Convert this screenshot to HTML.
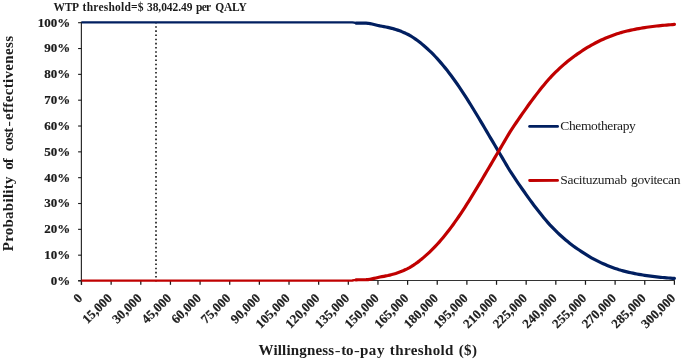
<!DOCTYPE html>
<html><head><meta charset="utf-8"><title>Cost-effectiveness acceptability curve</title>
<style>
html,body{margin:0;padding:0;background:#fff}
svg{display:block}
text{font-family:"Liberation Serif","DejaVu Serif",serif;fill:#1c1c1c}
.b{font-weight:bold}
.t{stroke:#1c1c1c;stroke-width:0.2px}
</style></head><body>
<svg width="685" height="362" viewBox="0 0 685 362">
<rect width="685" height="362" fill="#fff"/>
<g stroke="#333" stroke-width="1" fill="none">
<line x1="81.4" y1="21.8" x2="81.4" y2="284.8" stroke="#2e2e2e" stroke-width="1.2"/>
<line x1="78.1" y1="280.5" x2="674.9" y2="280.5"/>
<line x1="78.1" y1="281.00" x2="81.5" y2="281.00" stroke="#1a1a1a" stroke-width="1.1"/>
<line x1="78.1" y1="255.17" x2="81.5" y2="255.17" stroke="#1a1a1a" stroke-width="1.1"/>
<line x1="78.1" y1="229.34" x2="81.5" y2="229.34" stroke="#1a1a1a" stroke-width="1.1"/>
<line x1="78.1" y1="203.51" x2="81.5" y2="203.51" stroke="#1a1a1a" stroke-width="1.1"/>
<line x1="78.1" y1="177.68" x2="81.5" y2="177.68" stroke="#1a1a1a" stroke-width="1.1"/>
<line x1="78.1" y1="151.85" x2="81.5" y2="151.85" stroke="#1a1a1a" stroke-width="1.1"/>
<line x1="78.1" y1="126.02" x2="81.5" y2="126.02" stroke="#1a1a1a" stroke-width="1.1"/>
<line x1="78.1" y1="100.19" x2="81.5" y2="100.19" stroke="#1a1a1a" stroke-width="1.1"/>
<line x1="78.1" y1="74.36" x2="81.5" y2="74.36" stroke="#1a1a1a" stroke-width="1.1"/>
<line x1="78.1" y1="48.53" x2="81.5" y2="48.53" stroke="#1a1a1a" stroke-width="1.1"/>
<line x1="78.1" y1="22.70" x2="81.5" y2="22.70" stroke="#1a1a1a" stroke-width="1.1"/>
<line x1="81.50" y1="280.6" x2="81.50" y2="284.8" stroke="#1a1a1a" stroke-width="1.25"/>
<line x1="111.14" y1="280.6" x2="111.14" y2="284.8" stroke="#1a1a1a" stroke-width="1.25"/>
<line x1="140.79" y1="280.6" x2="140.79" y2="284.8" stroke="#1a1a1a" stroke-width="1.25"/>
<line x1="170.44" y1="280.6" x2="170.44" y2="284.8" stroke="#1a1a1a" stroke-width="1.25"/>
<line x1="200.08" y1="280.6" x2="200.08" y2="284.8" stroke="#1a1a1a" stroke-width="1.25"/>
<line x1="229.72" y1="280.6" x2="229.72" y2="284.8" stroke="#1a1a1a" stroke-width="1.25"/>
<line x1="259.37" y1="280.6" x2="259.37" y2="284.8" stroke="#1a1a1a" stroke-width="1.25"/>
<line x1="289.01" y1="280.6" x2="289.01" y2="284.8" stroke="#1a1a1a" stroke-width="1.25"/>
<line x1="318.66" y1="280.6" x2="318.66" y2="284.8" stroke="#1a1a1a" stroke-width="1.25"/>
<line x1="348.31" y1="280.6" x2="348.31" y2="284.8" stroke="#1a1a1a" stroke-width="1.25"/>
<line x1="377.95" y1="280.6" x2="377.95" y2="284.8" stroke="#1a1a1a" stroke-width="1.25"/>
<line x1="407.60" y1="280.6" x2="407.60" y2="284.8" stroke="#1a1a1a" stroke-width="1.25"/>
<line x1="437.24" y1="280.6" x2="437.24" y2="284.8" stroke="#1a1a1a" stroke-width="1.25"/>
<line x1="466.88" y1="280.6" x2="466.88" y2="284.8" stroke="#1a1a1a" stroke-width="1.25"/>
<line x1="496.53" y1="280.6" x2="496.53" y2="284.8" stroke="#1a1a1a" stroke-width="1.25"/>
<line x1="526.17" y1="280.6" x2="526.17" y2="284.8" stroke="#1a1a1a" stroke-width="1.25"/>
<line x1="555.82" y1="280.6" x2="555.82" y2="284.8" stroke="#1a1a1a" stroke-width="1.25"/>
<line x1="585.47" y1="280.6" x2="585.47" y2="284.8" stroke="#1a1a1a" stroke-width="1.25"/>
<line x1="615.11" y1="280.6" x2="615.11" y2="284.8" stroke="#1a1a1a" stroke-width="1.25"/>
<line x1="644.75" y1="280.6" x2="644.75" y2="284.8" stroke="#1a1a1a" stroke-width="1.25"/>
<line x1="674.40" y1="280.6" x2="674.40" y2="284.8" stroke="#1a1a1a" stroke-width="1.25"/>
</g>
<line x1="156" y1="22.0" x2="156" y2="281.6" stroke="#222" stroke-width="1.7" stroke-dasharray="1.6 2.564"/>
<path d="M81.50,22.30 L83.48,22.30 L85.45,22.30 L87.43,22.30 L89.41,22.30 L91.38,22.30 L93.36,22.30 L95.33,22.30 L97.31,22.30 L99.29,22.30 L101.26,22.30 L103.24,22.30 L105.22,22.30 L107.19,22.30 L109.17,22.30 L111.14,22.30 L113.12,22.30 L115.10,22.30 L117.07,22.30 L119.05,22.30 L121.03,22.30 L123.00,22.30 L124.98,22.30 L126.96,22.30 L128.93,22.30 L130.91,22.30 L132.88,22.30 L134.86,22.30 L136.84,22.30 L138.81,22.30 L140.79,22.30 L142.77,22.30 L144.74,22.30 L146.72,22.30 L148.70,22.30 L150.67,22.30 L152.65,22.30 L154.62,22.30 L156.60,22.30 L158.58,22.30 L160.55,22.30 L162.53,22.30 L164.51,22.30 L166.48,22.30 L168.46,22.30 L170.44,22.30 L172.41,22.30 L174.39,22.30 L176.36,22.30 L178.34,22.30 L180.32,22.30 L182.29,22.30 L184.27,22.30 L186.25,22.30 L188.22,22.30 L190.20,22.30 L192.17,22.30 L194.15,22.30 L196.13,22.30 L198.10,22.30 L200.08,22.30 L202.06,22.30 L204.03,22.30 L206.01,22.30 L207.99,22.30 L209.96,22.30 L211.94,22.30 L213.91,22.30 L215.89,22.30 L217.87,22.30 L219.84,22.30 L221.82,22.30 L223.80,22.30 L225.77,22.30 L227.75,22.30 L229.72,22.30 L231.70,22.30 L233.68,22.30 L235.65,22.30 L237.63,22.30 L239.61,22.30 L241.58,22.30 L243.56,22.30 L245.54,22.30 L247.51,22.30 L249.49,22.30 L251.46,22.30 L253.44,22.30 L255.42,22.30 L257.39,22.30 L259.37,22.30 L261.35,22.30 L263.32,22.30 L265.30,22.30 L267.28,22.30 L269.25,22.30 L271.23,22.30 L273.20,22.30 L275.18,22.30 L277.16,22.30 L279.13,22.30 L281.11,22.30 L283.09,22.30 L285.06,22.30 L287.04,22.30 L289.01,22.30 L290.99,22.30 L292.97,22.30 L294.94,22.30 L296.92,22.30 L298.90,22.30 L300.87,22.30 L302.85,22.30 L304.83,22.30 L306.80,22.30 L308.78,22.30 L310.75,22.30 L312.73,22.30 L314.71,22.30 L316.68,22.30 L318.66,22.30 L320.64,22.30 L322.61,22.30 L324.59,22.30 L326.57,22.30 L328.54,22.30 L330.52,22.30 L332.49,22.30 L334.47,22.30 L336.45,22.30 L338.42,22.30 L340.40,22.30 L342.38,22.30 L344.35,22.30 L346.33,22.31 L348.31,22.32 L350.28,22.34 L352.26,22.40 L354.23,22.72 L356.21,23.05" fill="none" stroke="#011f60" stroke-width="2.3" stroke-linejoin="round" stroke-linecap="butt"/>
<path d="M356.21,23.05 L358.19,23.16 L360.16,23.13 L362.14,23.13 L364.12,23.15 L366.09,23.20 L368.07,23.30 L370.04,23.66 L372.02,24.05 L374.00,24.48 L375.97,24.94 L377.95,25.43 L379.93,25.92 L381.90,26.25 L383.88,26.59 L385.86,26.96 L387.83,27.37 L389.81,27.83 L391.78,28.33 L393.76,28.88 L395.74,29.48 L397.71,30.13 L399.69,30.84 L401.67,31.61 L403.64,32.43 L405.62,33.32 L407.60,34.27 L409.57,35.28 L411.55,36.47 L413.52,37.75 L415.50,39.11 L417.48,40.54 L419.45,42.04 L421.43,43.62 L423.41,45.28 L425.38,46.99 L427.36,48.74 L429.33,50.56 L431.31,52.46 L433.29,54.44 L435.26,56.49 L437.24,58.63 L439.22,60.83 L441.19,63.11 L443.17,65.45 L445.15,67.86 L447.12,70.35 L449.10,72.90 L451.07,75.52 L453.05,78.21 L455.03,80.96 L457.00,83.77 L458.98,86.64 L460.96,89.58 L462.93,92.57 L464.91,95.62 L466.88,98.71 L468.86,101.84 L470.84,105.02 L472.81,108.22 L474.79,111.46 L476.77,114.73 L478.74,118.02 L480.72,121.34 L482.70,124.66 L484.67,128.01 L486.65,131.36 L488.62,134.71 L490.60,138.07 L492.58,141.43 L494.55,144.78 L496.53,148.12 L498.51,151.45 L500.48,154.79 L502.46,158.18 L504.44,161.55 L506.41,164.90 L508.39,168.22 L510.36,171.46 L512.34,174.47 L514.32,177.45 L516.29,180.39 L518.27,183.29 L520.25,186.15 L522.22,188.96 L524.20,191.73 L526.17,194.57 L528.15,197.37 L530.13,200.11 L532.10,202.80 L534.08,205.43 L536.06,208.01 L538.03,210.54 L540.01,213.07 L541.99,215.54 L543.96,217.96 L545.94,220.32 L547.91,222.62 L549.89,224.86 L551.87,226.95 L553.84,228.98 L555.82,230.95 L557.80,232.86 L559.77,234.71 L561.75,236.51 L563.73,238.25 L565.70,239.94 L567.68,241.58 L569.65,243.16 L571.63,244.69 L573.61,246.16 L575.58,247.59 L577.56,248.96 L579.54,250.29 L581.51,251.63 L583.49,252.95 L585.47,254.22 L587.44,255.44 L589.42,256.62 L591.39,257.76 L593.37,258.86 L595.35,259.91 L597.32,260.92 L599.30,261.89 L601.28,262.83 L603.25,263.73 L605.23,264.59 L607.20,265.42 L609.18,266.21 L611.16,266.97 L613.13,267.70 L615.11,268.40 L617.09,269.08 L619.06,269.72 L621.04,270.31 L623.02,270.85 L624.99,271.36 L626.97,271.85 L628.94,272.32 L630.92,272.77 L632.90,273.19 L634.87,273.59 L636.85,273.97 L638.83,274.34 L640.80,274.68 L642.78,275.01 L644.75,275.32 L646.73,275.62 L648.71,275.90 L650.68,276.17 L652.66,276.42 L654.64,276.66 L656.61,276.89 L658.59,277.10 L660.57,277.30 L662.54,277.50 L664.52,277.68 L666.49,277.85 L668.47,278.01 L670.45,278.17 L672.42,278.31 L674.40,278.45" fill="none" stroke="#011f60" stroke-width="3.2" stroke-linejoin="round" stroke-linecap="round"/>
<path d="M81.50,280.60 L83.48,280.60 L85.45,280.60 L87.43,280.60 L89.41,280.60 L91.38,280.60 L93.36,280.60 L95.33,280.60 L97.31,280.60 L99.29,280.60 L101.26,280.60 L103.24,280.60 L105.22,280.60 L107.19,280.60 L109.17,280.60 L111.14,280.60 L113.12,280.60 L115.10,280.60 L117.07,280.60 L119.05,280.60 L121.03,280.60 L123.00,280.60 L124.98,280.60 L126.96,280.60 L128.93,280.60 L130.91,280.60 L132.88,280.60 L134.86,280.60 L136.84,280.60 L138.81,280.60 L140.79,280.60 L142.77,280.60 L144.74,280.60 L146.72,280.60 L148.70,280.60 L150.67,280.60 L152.65,280.60 L154.62,280.60 L156.60,280.60 L158.58,280.60 L160.55,280.60 L162.53,280.60 L164.51,280.60 L166.48,280.60 L168.46,280.60 L170.44,280.60 L172.41,280.60 L174.39,280.60 L176.36,280.60 L178.34,280.60 L180.32,280.60 L182.29,280.60 L184.27,280.60 L186.25,280.60 L188.22,280.60 L190.20,280.60 L192.17,280.60 L194.15,280.60 L196.13,280.60 L198.10,280.60 L200.08,280.60 L202.06,280.60 L204.03,280.60 L206.01,280.60 L207.99,280.60 L209.96,280.60 L211.94,280.60 L213.91,280.60 L215.89,280.60 L217.87,280.60 L219.84,280.60 L221.82,280.60 L223.80,280.60 L225.77,280.60 L227.75,280.60 L229.72,280.60 L231.70,280.60 L233.68,280.60 L235.65,280.60 L237.63,280.60 L239.61,280.60 L241.58,280.60 L243.56,280.60 L245.54,280.60 L247.51,280.60 L249.49,280.60 L251.46,280.60 L253.44,280.60 L255.42,280.60 L257.39,280.60 L259.37,280.60 L261.35,280.60 L263.32,280.60 L265.30,280.60 L267.28,280.60 L269.25,280.60 L271.23,280.60 L273.20,280.60 L275.18,280.60 L277.16,280.60 L279.13,280.60 L281.11,280.60 L283.09,280.60 L285.06,280.60 L287.04,280.60 L289.01,280.60 L290.99,280.60 L292.97,280.60 L294.94,280.60 L296.92,280.60 L298.90,280.60 L300.87,280.60 L302.85,280.60 L304.83,280.60 L306.80,280.60 L308.78,280.60 L310.75,280.60 L312.73,280.60 L314.71,280.60 L316.68,280.60 L318.66,280.60 L320.64,280.60 L322.61,280.60 L324.59,280.60 L326.57,280.60 L328.54,280.60 L330.52,280.60 L332.49,280.60 L334.47,280.60 L336.45,280.60 L338.42,280.60 L340.40,280.60 L342.38,280.60 L344.35,280.60 L346.33,280.59 L348.31,280.58 L350.28,280.56 L352.26,280.50 L354.23,280.18 L356.21,279.85" fill="none" stroke="#c00000" stroke-width="2.3" stroke-linejoin="round" stroke-linecap="butt"/>
<path d="M356.21,279.85 L358.19,279.74 L360.16,279.77 L362.14,279.77 L364.12,279.75 L366.09,279.70 L368.07,279.60 L370.04,279.24 L372.02,278.85 L374.00,278.42 L375.97,277.96 L377.95,277.47 L379.93,276.98 L381.90,276.65 L383.88,276.31 L385.86,275.94 L387.83,275.53 L389.81,275.07 L391.78,274.57 L393.76,274.02 L395.74,273.42 L397.71,272.77 L399.69,272.06 L401.67,271.29 L403.64,270.47 L405.62,269.58 L407.60,268.63 L409.57,267.62 L411.55,266.43 L413.52,265.15 L415.50,263.79 L417.48,262.36 L419.45,260.86 L421.43,259.28 L423.41,257.62 L425.38,255.91 L427.36,254.16 L429.33,252.34 L431.31,250.44 L433.29,248.46 L435.26,246.41 L437.24,244.27 L439.22,242.07 L441.19,239.79 L443.17,237.45 L445.15,235.04 L447.12,232.55 L449.10,230.00 L451.07,227.38 L453.05,224.69 L455.03,221.94 L457.00,219.13 L458.98,216.26 L460.96,213.32 L462.93,210.33 L464.91,207.28 L466.88,204.19 L468.86,201.06 L470.84,197.88 L472.81,194.68 L474.79,191.44 L476.77,188.17 L478.74,184.88 L480.72,181.56 L482.70,178.24 L484.67,174.89 L486.65,171.54 L488.62,168.19 L490.60,164.83 L492.58,161.47 L494.55,158.12 L496.53,154.78 L498.51,151.45 L500.48,148.11 L502.46,144.72 L504.44,141.35 L506.41,138.00 L508.39,134.68 L510.36,131.44 L512.34,128.43 L514.32,125.45 L516.29,122.51 L518.27,119.61 L520.25,116.75 L522.22,113.94 L524.20,111.17 L526.17,108.33 L528.15,105.53 L530.13,102.79 L532.10,100.10 L534.08,97.47 L536.06,94.89 L538.03,92.36 L540.01,89.83 L541.99,87.36 L543.96,84.94 L545.94,82.58 L547.91,80.28 L549.89,78.04 L551.87,75.95 L553.84,73.92 L555.82,71.95 L557.80,70.04 L559.77,68.19 L561.75,66.39 L563.73,64.65 L565.70,62.96 L567.68,61.32 L569.65,59.74 L571.63,58.21 L573.61,56.74 L575.58,55.31 L577.56,53.94 L579.54,52.61 L581.51,51.27 L583.49,49.95 L585.47,48.68 L587.44,47.46 L589.42,46.28 L591.39,45.14 L593.37,44.04 L595.35,42.99 L597.32,41.98 L599.30,41.01 L601.28,40.07 L603.25,39.17 L605.23,38.31 L607.20,37.48 L609.18,36.69 L611.16,35.93 L613.13,35.20 L615.11,34.50 L617.09,33.82 L619.06,33.18 L621.04,32.59 L623.02,32.05 L624.99,31.54 L626.97,31.05 L628.94,30.58 L630.92,30.13 L632.90,29.71 L634.87,29.31 L636.85,28.93 L638.83,28.56 L640.80,28.22 L642.78,27.89 L644.75,27.58 L646.73,27.28 L648.71,27.00 L650.68,26.73 L652.66,26.48 L654.64,26.24 L656.61,26.01 L658.59,25.80 L660.57,25.60 L662.54,25.40 L664.52,25.22 L666.49,25.05 L668.47,24.89 L670.45,24.73 L672.42,24.59 L674.40,24.45" fill="none" stroke="#c00000" stroke-width="3.2" stroke-linejoin="round" stroke-linecap="round"/>
<line x1="529.6" y1="126.4" x2="557.6" y2="126.4" stroke="#011f60" stroke-width="2.8" stroke-linecap="round"/>
<line x1="529.6" y1="180.5" x2="557.6" y2="180.4" stroke="#c00000" stroke-width="2.8" stroke-linecap="round"/>
<text x="560.3" y="130.4" font-size="13.5" textLength="75.5" lengthAdjust="spacing">Chemotherapy</text>
<text y="184.2" font-size="13.5"><tspan x="560.3" textLength="66.6" lengthAdjust="spacing">Sacituzumab</tspan> <tspan x="631.1" textLength="49.3" lengthAdjust="spacing">govitecan</tspan></text>
<text class="b" y="10.9" font-size="11.5"><tspan x="53.6" textLength="24.9">WTP</tspan> <tspan x="82.6" textLength="61">threshold=$</tspan> <tspan x="147" textLength="45.4">38,042.49</tspan> <tspan x="196" textLength="14.9">per</tspan> <tspan x="215.2" textLength="31.5">QALY</tspan></text>
<text class="b t" x="70.3" y="284.8" font-size="13" text-anchor="end">0%</text>
<text class="b t" x="70.3" y="259.0" font-size="13" text-anchor="end">10%</text>
<text class="b t" x="70.3" y="233.1" font-size="13" text-anchor="end">20%</text>
<text class="b t" x="70.3" y="207.3" font-size="13" text-anchor="end">30%</text>
<text class="b t" x="70.3" y="181.5" font-size="13" text-anchor="end">40%</text>
<text class="b t" x="70.3" y="155.7" font-size="13" text-anchor="end">50%</text>
<text class="b t" x="70.3" y="129.8" font-size="13" text-anchor="end">60%</text>
<text class="b t" x="70.3" y="104.0" font-size="13" text-anchor="end">70%</text>
<text class="b t" x="70.3" y="78.2" font-size="13" text-anchor="end">80%</text>
<text class="b t" x="70.3" y="52.3" font-size="13" text-anchor="end">90%</text>
<text class="b t" x="70.3" y="26.5" font-size="13" text-anchor="end">100%</text>
<text class="b t" font-size="13" text-anchor="end" transform="translate(83.2,299.0) rotate(-45)">0</text>
<text class="b t" font-size="13" text-anchor="end" transform="translate(112.8,299.0) rotate(-45)">15,000</text>
<text class="b t" font-size="13" text-anchor="end" transform="translate(142.5,299.0) rotate(-45)">30,000</text>
<text class="b t" font-size="13" text-anchor="end" transform="translate(172.1,299.0) rotate(-45)">45,000</text>
<text class="b t" font-size="13" text-anchor="end" transform="translate(201.8,299.0) rotate(-45)">60,000</text>
<text class="b t" font-size="13" text-anchor="end" transform="translate(231.4,299.0) rotate(-45)">75,000</text>
<text class="b t" font-size="13" text-anchor="end" transform="translate(261.1,299.0) rotate(-45)">90,000</text>
<text class="b t" font-size="13" text-anchor="end" transform="translate(290.7,299.0) rotate(-45)">105,000</text>
<text class="b t" font-size="13" text-anchor="end" transform="translate(320.4,299.0) rotate(-45)">120,000</text>
<text class="b t" font-size="13" text-anchor="end" transform="translate(350.0,299.0) rotate(-45)">135,000</text>
<text class="b t" font-size="13" text-anchor="end" transform="translate(379.6,299.0) rotate(-45)">150,000</text>
<text class="b t" font-size="13" text-anchor="end" transform="translate(409.3,299.0) rotate(-45)">165,000</text>
<text class="b t" font-size="13" text-anchor="end" transform="translate(438.9,299.0) rotate(-45)">180,000</text>
<text class="b t" font-size="13" text-anchor="end" transform="translate(468.6,299.0) rotate(-45)">195,000</text>
<text class="b t" font-size="13" text-anchor="end" transform="translate(498.2,299.0) rotate(-45)">210,000</text>
<text class="b t" font-size="13" text-anchor="end" transform="translate(527.9,299.0) rotate(-45)">225,000</text>
<text class="b t" font-size="13" text-anchor="end" transform="translate(557.5,299.0) rotate(-45)">240,000</text>
<text class="b t" font-size="13" text-anchor="end" transform="translate(587.2,299.0) rotate(-45)">255,000</text>
<text class="b t" font-size="13" text-anchor="end" transform="translate(616.8,299.0) rotate(-45)">270,000</text>
<text class="b t" font-size="13" text-anchor="end" transform="translate(646.5,299.0) rotate(-45)">285,000</text>
<text class="b t" font-size="13" text-anchor="end" transform="translate(676.1,299.0) rotate(-45)">300,000</text>
<text class="b" y="354.9" font-size="15"><tspan x="258.5" textLength="75.6">Willingness</tspan><tspan x="334.7" textLength="5.8" lengthAdjust="spacingAndGlyphs" font-weight="normal">-</tspan><tspan x="341.2" textLength="12.2">to</tspan><tspan x="354" textLength="5.8" lengthAdjust="spacingAndGlyphs" font-weight="normal">-</tspan><tspan x="360" textLength="24.4">pay</tspan> <tspan x="389.8" textLength="63.6">threshold</tspan> <tspan x="458.7" textLength="18.2">($)</tspan></text>
<text class="b" font-size="15" transform="translate(13.3,0) rotate(-90)"><tspan x="-251.3" textLength="74.8">Probability</tspan> <tspan x="-169.8" textLength="11.6">of</tspan> <tspan x="-151.3" textLength="23.6">cost</tspan><tspan x="-126.7" textLength="5.7" lengthAdjust="spacingAndGlyphs" font-weight="normal">-</tspan><tspan x="-120" textLength="84">effectiveness</tspan></text>
</svg></body></html>
